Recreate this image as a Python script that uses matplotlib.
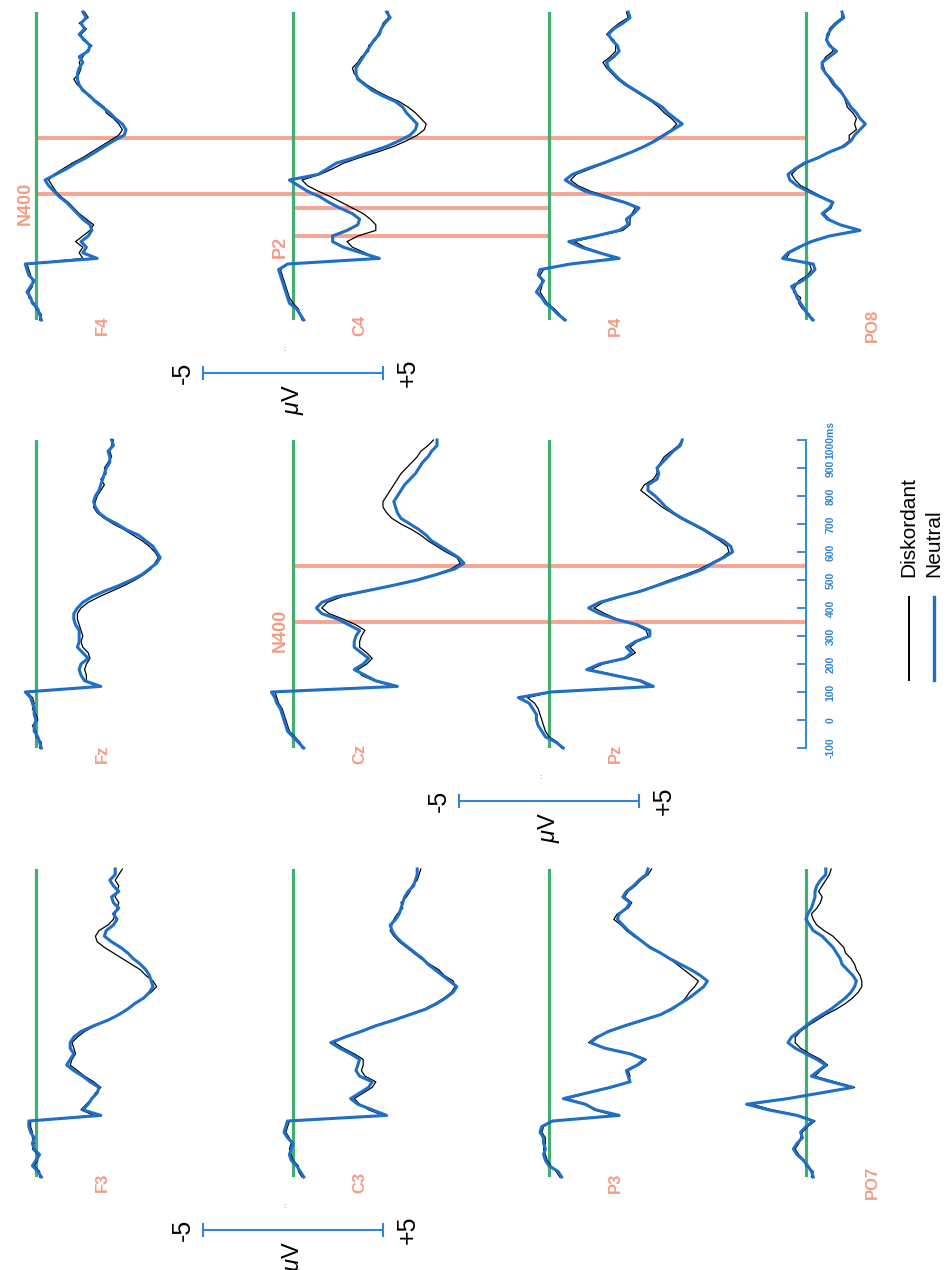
import numpy as np
import matplotlib
matplotlib.use("Agg")
from matplotlib import pyplot as plt
from matplotlib import transforms
from matplotlib.lines import Line2D

plt.rcParams['font.family'] = ['Liberation Sans', 'DejaVu Sans']
plt.rcParams['mathtext.fontset'] = 'custom'
plt.rcParams['mathtext.rm'] = 'Liberation Sans'
plt.rcParams['mathtext.it'] = 'Liberation Sans:italic'

# sampling grid of the averaged ERPs (ms)
times = np.arange(-100, 1001, 20)

# grand averages in microvolts, one value per 20 ms
f4_neutral = [0.3, 0.2, 0.1, -0.2, -0.3, -0.5, -0.3, -0.1, -0.4, -0.5,
              -0.6, 3.4, 2.6, 2.8, 2.5, 2.9, 3.1, 3.0, 2.6, 2.3,
              2.0, 1.7, 1.3, 1.0, 0.7, 0.5, 1.1, 1.7, 2.2, 2.8,
              3.3, 3.8, 4.3, 4.9, 5.0, 4.8, 4.4, 4.1, 3.7, 3.3,
              3.0, 2.6, 2.4, 2.3, 2.3, 2.4, 2.6, 2.4, 2.9, 3.0,
              2.7, 2.4, 2.7, 2.5, 2.8, 2.6]
f4_diskordant = [0.2, 0.3, 0.0, -0.1, -0.4, -0.4, -0.2, -0.2, -0.3, -0.4,
                 -0.5, 2.6, 2.4, 2.6, 2.2, 2.6, 3.0, 3.2, 2.8, 2.4,
                 2.1, 1.8, 1.4, 1.1, 0.9, 0.7, 1.0, 1.5, 2.0, 2.6,
                 3.1, 3.6, 4.1, 4.6, 4.8, 4.6, 4.3, 3.9, 3.8, 3.4,
                 2.9, 2.7, 2.3, 2.1, 2.4, 2.5, 2.4, 2.6, 2.8, 3.1,
                 2.6, 2.5, 2.8, 2.4, 2.9, 2.7]

c4_neutral = [0.6, 0.4, 0.2, -0.2, -0.3, -0.4, -0.5, -0.6, -0.7, -0.8,
              -0.3, 4.8, 3.8, 2.8, 2.2, 2.2, 3.0, 3.6, 3.7, 3.3,
              2.6, 2.0, 1.5, 0.8, 0.3, -0.2, 1.4, 1.9, 2.4, 3.4,
              4.3, 5.2, 5.9, 6.5, 6.8, 6.9, 6.6, 6.3, 6.1, 5.7,
              5.0, 4.4, 4.0, 3.6, 3.5, 3.5, 3.7, 3.9, 4.1, 4.3,
              4.5, 4.8, 4.9, 5.1, 5.4, 5.2]
c4_diskordant = [0.5, 0.4, 0.3, 0.0, -0.2, -0.3, -0.4, -0.5, -0.6, -0.7,
                 -0.3, 4.6, 4.0, 3.3, 3.0, 3.6, 4.6, 4.6, 4.3, 3.9,
                 3.3, 2.7, 2.1, 1.4, 0.8, 0.5, 1.5, 2.2, 2.8, 3.7,
                 4.7, 5.6, 6.3, 6.9, 7.3, 7.4, 7.1, 6.8, 6.4, 5.9,
                 5.2, 4.6, 4.1, 3.7, 3.4, 3.3, 3.6, 3.8, 4.2, 4.2,
                 4.6, 4.7, 4.9, 5.0, 5.3, 5.3]

p4_neutral = [0.9, 0.5, 0.2, -0.2, -0.4, -0.7, -0.5, -0.3, -0.6, -0.5,
              1.2, 3.9, 2.8, 1.8, 1.1, 2.6, 3.9, 4.4, 4.3, 4.7,
              5.0, 4.2, 3.1, 2.0, 1.4, 0.9, 1.3, 2.1, 3.0, 3.8,
              4.6, 5.3, 5.9, 6.4, 6.9, 7.4, 7.0, 6.6, 6.3, 5.8,
              5.3, 4.8, 4.3, 3.9, 3.6, 3.3, 3.2, 3.6, 3.9, 3.8,
              3.5, 3.3, 3.6, 4.1, 4.5, 4.4]
p4_diskordant = [0.8, 0.6, 0.3, -0.1, -0.3, -0.5, -0.4, -0.4, -0.5, -0.3,
                 1.0, 3.6, 2.9, 2.0, 1.4, 2.7, 4.1, 4.5, 4.5, 4.6,
                 4.8, 4.3, 3.3, 2.3, 1.6, 1.2, 1.5, 2.3, 3.1, 3.9,
                 4.6, 5.3, 5.8, 6.3, 6.8, 7.1, 6.8, 6.4, 6.1, 5.7,
                 5.2, 4.7, 4.2, 3.8, 3.5, 3.2, 3.0, 3.4, 3.7, 3.7,
                 3.6, 3.2, 3.5, 3.9, 4.4, 4.3]

po8_neutral = [0.4, 0.1, -0.1, -0.3, -0.5, -0.6, -0.8, -0.2, 0.2, 0.5,
               0.4, -1.3, -1.0, -0.4, 0.3, 1.3, 3.0, 1.9, 1.2, 0.9,
               1.3, 1.5, 0.8, 0.1, -0.5, -0.9, -1.0, -0.6, -0.1, 0.7,
               1.3, 2.1, 2.5, 2.7, 3.0, 3.3, 3.0, 2.8, 2.5, 2.3,
               2.1, 1.9, 1.6, 1.4, 1.1, 0.9, 0.9, 1.3, 1.7, 1.3,
               1.15, 1.2, 1.4, 1.7, 2.1, 2.0]
po8_diskordant = [0.3, 0.2, -0.2, -0.4, -0.3, -0.7, -0.6, -0.4, 0.1, 0.3,
                  0.2, -1.1, -0.9, -0.3, 0.2, 1.2, 2.9, 1.9, 1.3, 1.0,
                  1.4, 1.5, 0.9, 0.3, -0.3, -0.6, -0.8, -0.5, 0.0, 0.6,
                  1.3, 2.0, 2.4, 2.4, 2.8, 2.7, 2.8, 2.6, 2.3, 2.2,
                  2.1, 1.8, 1.5, 1.3, 1.1, 1.0, 0.9, 1.1, 1.5, 1.4,
                  1.1, 1.3, 1.3, 1.6, 2.0, 2.0]

fz_neutral = [0.3, 0.2, 0.1, -0.1, -0.1, 0.0, -0.1, -0.1, -0.2, -0.3,
              -0.6, 3.6, 2.7, 2.5, 2.4, 2.5, 2.9, 2.6, 2.3, 2.4,
              2.4, 2.4, 2.2, 2.1, 2.1, 2.3, 2.6, 3.1, 3.8, 4.6,
              5.3, 5.9, 6.3, 6.7, 6.9, 6.7, 6.5, 6.1, 5.7, 5.0,
              4.5, 3.9, 3.5, 3.3, 3.2, 3.3, 3.5, 3.6, 3.7, 3.8,
              3.9, 4.1, 4.1, 4.0, 4.3, 4.2]
fz_diskordant = [0.2, 0.3, 0.0, 0.0, -0.2, 0.1, 0.0, -0.2, -0.1, -0.2,
                 -0.5, 3.3, 2.8, 2.8, 2.7, 2.8, 3.0, 2.9, 2.6, 2.5,
                 2.6, 2.5, 2.4, 2.3, 2.3, 2.5, 2.9, 3.5, 4.2, 4.9,
                 5.5, 6.0, 6.4, 6.6, 6.8, 6.6, 6.3, 5.9, 5.4, 4.9,
                 4.3, 3.8, 3.4, 3.2, 3.3, 3.4, 3.6, 3.8, 3.6, 3.9,
                 3.8, 4.0, 4.2, 4.1, 4.2, 4.3]

cz_neutral = [0.6, 0.3, 0.0, -0.3, -0.4, -0.5, -0.6, -0.7, -0.9, -1.0,
              -1.2, 5.8, 4.6, 4.0, 3.4, 3.9, 4.2, 3.8, 3.4, 3.4,
              3.5, 3.7, 3.1, 2.5, 1.6, 1.3, 1.6, 2.4, 4.0, 5.5,
              6.9, 8.0, 9.0, 9.5, 9.2, 8.7, 8.2, 7.7, 7.4, 7.0,
              6.5, 6.0, 5.8, 5.7, 5.6, 5.8, 6.0, 6.2, 6.5, 6.8,
              7.0, 7.2, 7.5, 7.7, 8.0, 8.0]
cz_diskordant = [0.5, 0.4, 0.1, -0.2, -0.3, -0.4, -0.5, -0.6, -0.8, -0.9,
                 -1.0, 5.6, 4.5, 3.8, 3.6, 4.1, 4.4, 4.1, 3.7, 3.7,
                 3.8, 4.0, 3.5, 2.8, 2.0, 1.6, 1.9, 2.7, 4.1, 5.5,
                 6.8, 7.9, 8.8, 9.3, 9.1, 8.5, 8.0, 7.5, 7.1, 6.6,
                 6.0, 5.5, 5.2, 5.0, 5.0, 5.2, 5.4, 5.6, 5.8, 6.0,
                 6.3, 6.6, 6.9, 7.1, 7.5, 7.8]

pz_neutral = [0.8, 0.4, -0.2, -0.4, -0.6, -0.7, -0.7, -0.9, -1.1, -1.7,
              0.1, 5.8, 5.1, 3.6, 2.1, 2.8, 4.2, 4.6, 4.3, 4.8,
              5.6, 5.6, 4.9, 3.7, 2.8, 2.2, 2.8, 3.9, 5.1, 6.0,
              6.9, 7.8, 8.6, 9.1, 9.7, 10.2, 10.1, 9.7, 9.1, 8.6,
              8.0, 7.4, 6.9, 6.5, 6.2, 5.9, 5.5, 5.5, 6.0, 6.1,
              6.0, 6.3, 6.6, 6.9, 7.3, 7.4]
pz_diskordant = [0.7, 0.5, 0.0, -0.2, -0.3, -0.4, -0.5, -0.6, -0.8, -1.2,
                 0.2, 5.6, 5.0, 3.7, 2.3, 3.0, 4.3, 4.8, 4.5, 4.9,
                 5.5, 5.4, 4.8, 3.8, 3.1, 2.5, 3.0, 4.0, 5.0, 5.9,
                 6.7, 7.6, 8.4, 9.0, 9.6, 10.0, 9.9, 9.5, 9.0, 8.5,
                 7.9, 7.3, 6.8, 6.3, 5.9, 5.5, 5.1, 5.3, 5.8, 6.0,
                 6.0, 6.2, 6.4, 6.8, 7.2, 7.4]

f3_neutral = [0.3, 0.1, -0.2, 0.0, 0.2, -0.1, -0.2, -0.1, -0.3, -0.4,
              -0.4, 3.6, 2.6, 2.9, 3.1, 3.4, 3.5, 3.0, 2.6, 2.1,
              1.7, 1.9, 2.1, 1.9, 1.9, 2.1, 2.5, 3.2, 4.0, 4.6,
              5.1, 5.5, 6.0, 6.3, 6.5, 6.4, 6.3, 6.1, 5.8, 5.4,
              5.1, 4.7, 4.2, 3.8, 3.9, 4.3, 4.5, 4.3, 4.6, 4.3,
              4.2, 4.6, 4.3, 4.1, 4.4, 4.4]
f3_diskordant = [0.2, 0.2, -0.1, 0.1, 0.1, -0.2, -0.1, -0.2, -0.2, -0.3,
                 -0.3, 3.2, 2.5, 2.8, 3.1, 3.3, 3.6, 3.2, 2.7, 2.3,
                 1.9, 2.0, 2.2, 2.1, 2.0, 2.3, 2.7, 3.3, 4.0, 4.6,
                 5.1, 5.5, 6.0, 6.4, 6.7, 6.5, 6.1, 5.8, 5.3, 4.8,
                 4.3, 3.8, 3.4, 3.3, 3.5, 4.0, 4.3, 4.4, 4.5, 4.6,
                 4.4, 4.5, 4.6, 4.4, 4.6, 4.8]

c3_neutral = [0.6, 0.4, 0.2, -0.1, -0.2, -0.1, 0.0, -0.3, -0.5, -0.4,
              -0.3, 5.2, 4.4, 3.6, 3.2, 3.7, 4.2, 4.4, 3.7, 3.5,
              3.6, 3.7, 3.2, 2.6, 2.1, 2.9, 3.8, 4.6, 5.6, 6.5,
              7.4, 8.0, 8.5, 8.9, 9.1, 8.7, 8.3, 7.9, 7.5, 7.2,
              6.8, 6.4, 6.0, 5.7, 5.5, 5.4, 5.7, 5.9, 6.0, 6.1,
              6.2, 6.4, 6.7, 6.8, 6.9, 6.9]
c3_diskordant = [0.5, 0.3, 0.3, 0.0, -0.1, -0.2, -0.1, -0.2, -0.4, -0.3,
                 -0.2, 5.0, 4.2, 3.7, 3.4, 3.9, 4.4, 4.6, 4.0, 3.8,
                 3.9, 3.9, 3.4, 2.8, 2.3, 2.8, 3.7, 4.5, 5.5, 6.4,
                 7.3, 7.9, 8.4, 8.8, 9.0, 8.9, 8.4, 8.1, 7.6, 7.1,
                 6.7, 6.3, 5.9, 5.6, 5.4, 5.5, 5.6, 5.8, 6.1, 6.0,
                 6.3, 6.5, 6.6, 6.9, 7.0, 7.1]

p3_neutral = [0.7, 0.5, 0.0, -0.2, -0.3, -0.2, -0.3, -0.3, -0.5, -0.4,
              0.2, 3.9, 2.6, 2.0, 0.8, 2.1, 3.4, 4.5, 4.4, 4.3,
              4.9, 5.3, 4.5, 3.1, 2.3, 2.7, 3.3, 4.2, 5.2, 6.2,
              6.8, 7.3, 7.8, 8.2, 8.6, 8.8, 8.4, 7.9, 7.3, 6.7,
              6.2, 5.6, 5.2, 4.8, 4.4, 4.1, 3.8, 3.9, 4.3, 4.5,
              4.1, 4.3, 4.7, 5.0, 5.4, 5.5]
p3_diskordant = [0.6, 0.4, 0.1, -0.1, -0.2, -0.3, -0.2, -0.2, -0.4, -0.3,
                 0.1, 3.6, 2.5, 2.1, 1.0, 2.2, 3.5, 4.4, 4.5, 4.4,
                 5.0, 5.4, 4.6, 3.2, 2.2, 2.6, 3.4, 4.3, 5.3, 6.2,
                 6.9, 7.3, 7.6, 7.8, 8.1, 8.3, 7.9, 7.5, 7.1, 6.7,
                 6.2, 5.7, 5.2, 4.7, 4.3, 4.0, 3.6, 3.8, 4.4, 4.6,
                 4.2, 4.4, 4.8, 5.1, 5.5, 5.7]

po7_neutral = [0.4, 0.3, 0.1, -0.15, -0.5, -0.7, -0.5, -0.2, -0.3, 0.0,
               0.4, -0.5, -2.1, -3.3, -1.0, 0.8, 2.6, 1.4, 0.3, 0.7,
               1.1, 0.6, 0.0, -0.6, -1.0, -0.8, -0.4, 0.0, 0.4, 0.9,
               1.4, 1.8, 2.2, 2.5, 2.7, 2.8, 2.6, 2.3, 2.0, 1.9,
               1.7, 1.5, 1.2, 0.9, 0.4, 0.2, 0.0, 0.1, 0.3, 0.4,
               0.5, 0.5, 0.6, 0.8, 1.1, 1.1]
po7_diskordant = [0.3, 0.4, 0.0, -0.1, -0.4, -0.6, -0.4, -0.3, -0.2, 0.1,
                  0.5, -0.4, -1.9, -3.0, -1.1, 0.7, 2.7, 1.6, 0.5, 0.8,
                  1.2, 0.8, 0.2, -0.3, -0.6, -0.6, -0.3, 0.1, 0.6, 1.1,
                  1.7, 2.2, 2.6, 2.9, 3.1, 3.1, 3.0, 2.8, 2.7, 2.5,
                  2.2, 2.1, 1.8, 1.5, 1.0, 0.6, 0.4, 0.3, 0.6, 0.8,
                  0.9, 0.7, 0.9, 1.1, 1.3, 1.4]

# analysis windows (ms)
n400_window = [350, 550]
p2_window = [200, 300]

time_ticks = list(range(-100, 1001, 100))
scale_uv = 5
conditions = ['Diskordant', 'Neutral']

BLUE = '#1f6fc6'
SCALE_BLUE = '#2f86d8'
GREEN = '#44ad72'
SALMON = '#f6a592'
LABEL_SALMON = '#f08a70'

# page geometry (pixels); the layout is turned by 90 degrees,
# time runs upwards and microvolts run to the right
W, H = 948, 1270
PX_PER_UV = 18.0
PX_PER_MS = 0.28
row_base = {'F': 36, 'C': 293, 'P': 549, 'PO': 806}
col_bottom = {'4': 320, 'z': 748, '3': 1177}

fig = plt.figure(figsize=(W / 100, H / 100), dpi=100)
fig.patch.set_facecolor('white')


def fx(x):
    return x / W


def fy(y):
    return 1 - y / H


def add_panel(row, col):
    x0 = row_base[row] - 4 * PX_PER_UV
    ax = fig.add_axes([fx(x0), fy(col_bottom[col]),
                       15 * PX_PER_UV / W, 1100 * PX_PER_MS / H])
    ax.set_xlim(-4, 11)
    ax.set_ylim(-100, 1000)
    ax.axis('off')
    ax.patch.set_visible(False)
    return ax


def draw_channel(ax, name, neutral, diskordant):
    ax.axvline(0, color=GREEN, lw=2.3, zorder=2)
    ax.plot(diskordant, times, color='black', lw=0.9, zorder=3, clip_on=False)
    ax.plot(neutral, times, color=BLUE, lw=2.2, zorder=4, clip_on=False)
    ax.text(3.7, -120, name, rotation=90, ha='center', va='center',
            color=LABEL_SALMON, fontsize=12, fontweight='bold', alpha=0.85)


def window_lines(ax, windows, row_from, row_to):
    trans = transforms.blended_transform_factory(fig.transFigure, ax.transData)
    for t in windows:
        ax.plot([fx(row_base[row_from]), fx(row_base[row_to])], [t, t],
                transform=trans, color=SALMON, lw=2.8, zorder=1,
                clip_on=False, solid_capstyle='butt')


def scale_bar(ax):
    bar_t = -288
    ax.plot([-scale_uv, scale_uv], [bar_t, bar_t], color=SCALE_BLUE, lw=1.5,
            marker='|', ms=10, mew=1.5, clip_on=False)
    ax.text(-scale_uv - 1.1, bar_t, f'-{scale_uv}', rotation=90,
            ha='center', va='center', fontsize=18)
    ax.text(scale_uv + 1.35, bar_t, f'+{scale_uv}', rotation=90,
            ha='center', va='center', fontsize=18)
    ax.text(0, bar_t - 95, r'$\mu$V', rotation=90,
            ha='center', va='center', fontsize=17)
    ax.text(-0.5, -205, ':', ha='center', va='center', fontsize=6,
            color=SCALE_BLUE)


def window_label(ax, uv, t, text):
    ax.text(uv, t, text, rotation=90, ha='center', va='center',
            color=LABEL_SALMON, fontsize=13, fontweight='bold', alpha=0.85)


channels = [
    ('F4', 'F', '4', f4_neutral, f4_diskordant),
    ('C4', 'C', '4', c4_neutral, c4_diskordant),
    ('P4', 'P', '4', p4_neutral, p4_diskordant),
    ('PO8', 'PO', '4', po8_neutral, po8_diskordant),
    ('Fz', 'F', 'z', fz_neutral, fz_diskordant),
    ('Cz', 'C', 'z', cz_neutral, cz_diskordant),
    ('Pz', 'P', 'z', pz_neutral, pz_diskordant),
    ('F3', 'F', '3', f3_neutral, f3_diskordant),
    ('C3', 'C', '3', c3_neutral, c3_diskordant),
    ('P3', 'P', '3', p3_neutral, p3_diskordant),
    ('PO7', 'PO', '3', po7_neutral, po7_diskordant),
]

axes = {}
for name, row, col, neu, dis in channels:
    ax = add_panel(row, col)
    axes[name] = ax
    if name == 'F4':
        window_lines(ax, n400_window, 'F', 'PO')
        window_label(ax, -0.6, 318, 'N400')
    if name == 'C4':
        window_lines(ax, p2_window, 'C', 'P')
        window_label(ax, -0.7, 161, 'P2')
    if name == 'Cz':
        window_lines(ax, n400_window, 'C', 'PO')
        window_label(ax, -0.7, 321, 'N400')
    draw_channel(ax, name, neu, dis)

for name in ('C4', 'Pz', 'C3'):
    scale_bar(axes[name])

# time scale in the empty slot of the bottom row
axt = fig.add_axes([fx(row_base['PO'] - 40), fy(col_bottom['z']),
                    40 / W, 1100 * PX_PER_MS / H])
axt.set_ylim(-100, 1000)
axt.patch.set_visible(False)
axt.set_xticks([])
for s in ('left', 'top', 'bottom'):
    axt.spines[s].set_visible(False)
axt.spines['right'].set_color(SCALE_BLUE)
axt.spines['right'].set_linewidth(1.4)
axt.yaxis.tick_right()
axt.set_yticks(time_ticks)
axt.set_yticklabels([str(t) for t in time_ticks[:-1]] + [f'{time_ticks[-1]}ms'])
axt.tick_params(axis='y', direction='in', length=6.5, width=1.3,
                color=SCALE_BLUE, labelcolor=SCALE_BLUE, labelsize=7.5,
                pad=14, labelrotation=90)
for lab in axt.get_yticklabels():
    lab.set_va('center')
    lab.set_ha('left')
    lab.set_fontweight('bold')

# legend, drawn upright with the rest of the page
for i, (cond, color, lw) in enumerate(zip(conditions, ['black', BLUE], [1.4, 2.4])):
    xc = 909 + 25 * i
    fig.add_artist(Line2D([fx(xc), fx(xc)], [fy(680), fy(597)],
                          transform=fig.transFigure, color=color, lw=lw))
    fig.text(fx(xc), fy(577), cond, rotation=90, rotation_mode='anchor',
             ha='left', va='center', fontsize=15)

fig.savefig('out.png', dpi=100, facecolor='white')
